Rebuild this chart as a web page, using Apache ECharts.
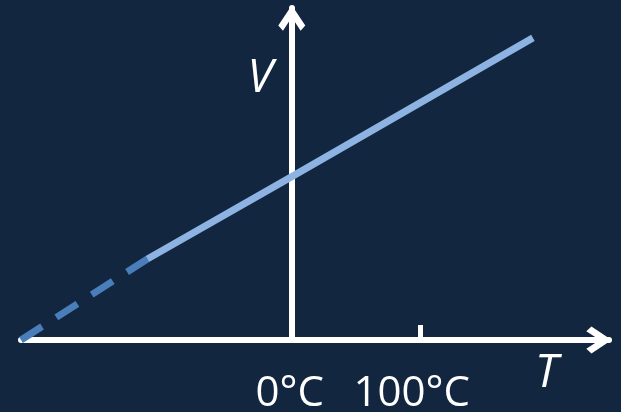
<!DOCTYPE html>
<html>
<head>
<meta charset="utf-8">
<script src="https://cdn.jsdelivr.net/npm/echarts@6/dist/echarts.min.js"></script>
<style>
  html, body { margin: 0; padding: 0; background: #12263f; }
  #chart { width: 621px; height: 412px; }
</style>
</head>
<body>
<div id="chart"></div>
<script>
// V against T: extrapolated part (dashed) and measured part (solid)
const dashedT = [-210, -112];
const dashedV = [0, 2.44];
const solidT = [-112, 0, 187];
const solidV = [2.44, 4.92, 9.1];

// x axis labels and the single tick mark
const labelTicks = [0, 100];
const markTicks = [100];

// open arrow head (chevron), tip at the top
const chevron = "path://M13,0 L26,19.5 L21.5,24.5 L13,11.5 L4.5,24.5 L0,19.5 Z";

const chart = echarts.init(document.getElementById("chart"));

chart.setOption({
  backgroundColor: "#12263f",
  animation: false,
  grid: {
    left: 21,
    right: 12,
    top: 8,
    bottom: 72,
    containLabel: false,
    outerBoundsMode: "none",
  },
  xAxis: {
    type: "value",
    min: -210,
    max: 246,
    name: "T",
    nameLocation: "end",
    nameGap: -74,
    nameTextStyle: {
      color: "#ffffff",
      fontSize: 46,
      fontStyle: "italic",
      fontFamily: "Open Sans",
      align: "left",
      verticalAlign: "top",
      padding: [11, 0, 0, 0],
    },
    axisLine: {
      lineStyle: { color: "#ffffff", width: 6 },
      symbol: ["none", chevron],
      symbolSize: [27, 26],
      symbolOffset: [0, -10],
    },
    axisTick: {
      show: true,
      inside: true,
      length: 15,
      customValues: markTicks,
      lineStyle: { color: "#ffffff", width: 5 },
    },
    axisLabel: {
      customValues: labelTicks,
      margin: 33,
      color: "#ffffff",
      fontSize: 42,
      fontFamily: "Open Sans",
      formatter: function (v) {
        return v === 100 ? "{b|" + v + "°C}" : "{a|" + v + "°C}";
      },
      rich: {
        a: { padding: [0, 4, 0, 0] },
        b: { padding: [0, 18, 0, 0] },
      },
    },
    splitLine: { show: false },
  },
  yAxis: {
    type: "value",
    min: 0,
    max: 10,
    name: "V",
    nameLocation: "end",
    nameGap: -48,
    nameTextStyle: {
      color: "#ffffff",
      fontSize: 46,
      fontStyle: "italic",
      fontFamily: "Open Sans",
      align: "right",
      verticalAlign: "top",
      padding: [0, 19, 0, 0],
    },
    axisLine: {
      show: true,
      onZero: true,
      lineStyle: { color: "#ffffff", width: 6 },
      symbol: ["none", chevron],
      symbolSize: [27, 26],
      symbolOffset: [0, -10],
    },
    axisTick: { show: false },
    axisLabel: { show: false },
    splitLine: { show: false },
  },
  series: [
    {
      name: "extrapolated",
      type: "line",
      data: dashedT.map((t, i) => [t, dashedV[i]]),
      showSymbol: false,
      clip: false,
      lineStyle: { color: "#4a7ebb", width: 7, type: [25, 17], cap: "butt" },
      z: 3,
    },
    {
      name: "measured",
      type: "line",
      data: solidT.map((t, i) => [t, solidV[i]]),
      showSymbol: false,
      clip: false,
      lineStyle: { color: "#8db3e2", width: 7, cap: "butt" },
      z: 3,
    },
  ],
});
</script>
</body>
</html>
